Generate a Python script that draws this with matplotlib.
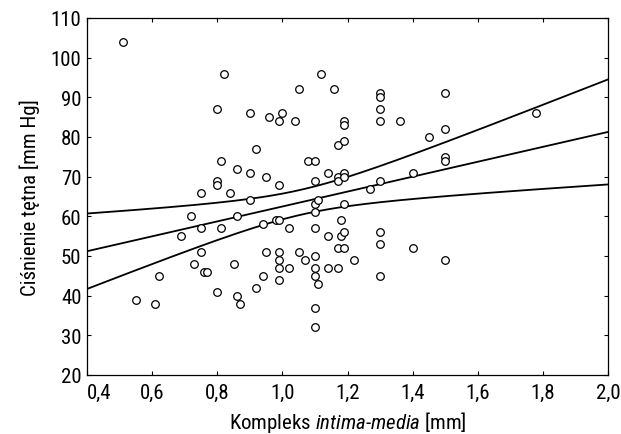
import numpy as np
import matplotlib
matplotlib.use("Agg")
from matplotlib import pyplot as plt
from matplotlib import font_manager
from matplotlib.ticker import FuncFormatter

# dane: kompleks intima-media [mm], cisnienie tetna [mm Hg]
imt = [0.51, 0.82, 1.12, 1.05, 1.16, 0.80, 0.90, 0.96, 1.00, 0.99,
       1.04, 1.19, 1.19, 0.92, 1.17, 1.19, 0.81, 1.08, 1.10, 0.86,
       0.90, 0.95, 0.80, 0.80, 0.99, 1.14, 1.17, 1.17, 1.19, 1.19,
       1.10, 0.75, 0.84, 1.50, 1.30, 1.30, 1.30, 1.30, 1.36, 1.78,
       1.50, 1.45, 1.50, 1.50, 1.40, 1.30, 1.27, 0.90, 1.10, 1.11,
       1.19, 1.10, 0.72, 0.86, 0.94, 0.98, 0.99, 0.75, 0.81, 1.02,
       1.10, 1.18, 0.69, 1.14, 1.18, 1.19, 0.75, 0.95, 0.99, 1.05,
       1.10, 1.07, 1.17, 1.19, 1.22, 0.73, 0.85, 0.99, 0.99, 1.02,
       1.10, 1.14, 1.17, 0.76, 0.77, 0.62, 0.94, 1.10, 0.99, 1.11,
       0.92, 0.80, 0.86, 0.55, 0.61, 0.87, 1.10, 1.10, 1.30, 1.30,
       1.40, 1.50, 1.30]
pp = [104, 96, 96, 92, 92, 87, 86, 85, 86, 84,
      84, 84, 83, 77, 78, 79, 74, 74, 74, 72,
      71, 70, 69, 68, 68, 71, 70, 69, 71, 70,
      69, 66, 66, 91, 91, 90, 87, 84, 84, 86,
      82, 80, 75, 74, 71, 69, 67, 64, 63, 64,
      63, 61, 60, 60, 58, 59, 59, 57, 57, 57,
      57, 59, 55, 55, 55, 56, 51, 51, 51, 51,
      50, 49, 52, 52, 49, 48, 48, 49, 47, 47,
      47, 47, 47, 46, 46, 45, 45, 45, 44, 43,
      42, 41, 40, 39, 38, 38, 37, 32, 56, 53,
      52, 49, 45]

x_ticks = [0.4, 0.6, 0.8, 1.0, 1.2, 1.4, 1.6, 1.8, 2.0]
y_ticks = [20, 30, 40, 50, 60, 70, 80, 90, 100, 110]

# waski font jak w oryginale
names = set(f.name for f in font_manager.fontManager.ttflist)
font = 'Liberation Sans'
for cand in ['Roboto Condensed', 'Archivo Narrow', 'Liberation Sans Narrow']:
    if cand in names:
        font = cand
        break
plt.rcParams['font.family'] = [font, 'DejaVu Sans']
plt.rcParams['mathtext.fontset'] = 'custom'
plt.rcParams['mathtext.rm'] = font
plt.rcParams['mathtext.it'] = font + ':italic'

# regresja liniowa + 95% przedzial ufnosci
x = np.array(imt)
y = np.array(pp)
n = len(x)
b, a = np.polyfit(x, y, 1)
res = y - (a + b * x)
s = np.sqrt(np.sum(res ** 2) / (n - 2))
t = 1.984
xs = np.linspace(0.4, 2.0, 200)
ys = a + b * xs
se = s * np.sqrt(1.0 / n + (xs - x.mean()) ** 2 / np.sum((x - x.mean()) ** 2))

fig = plt.figure(figsize=(6.21, 4.35), dpi=100)
ax = fig.add_axes([87 / 621, 1 - 376 / 435, 521 / 621, 357 / 435])

ax.scatter(x, y, s=30, facecolors='white', edgecolors='black', linewidths=0.9, zorder=3)
ax.plot(xs, ys, 'k-', lw=1.3)
ax.plot(xs, ys + t * se, 'k-', lw=1.3)
ax.plot(xs, ys - t * se, 'k-', lw=1.3)

ax.set_xlim(0.4, 2.0)
ax.set_ylim(20, 110)
ax.set_xticks(x_ticks)
ax.set_yticks(y_ticks)
ax.xaxis.set_major_formatter(FuncFormatter(lambda v, p: ('%.1f' % v).replace('.', ',')))
ax.tick_params(direction='in', length=3, width=0.8, top=True, right=True, labelsize=15)
ax.tick_params(axis='y', pad=4)
ax.tick_params(axis='x', pad=6)
for sp in ax.spines.values():
    sp.set_linewidth(0.9)
ax.get_xticklabels()[0].set_horizontalalignment('left')

ax.set_xlabel('Kompleks $intima$-$media$ [mm]', fontsize=15, labelpad=5)
ax.set_ylabel('Ciśnienie tętna [mm Hg]', fontsize=15, labelpad=8)

plt.savefig('out.png', dpi=100)
